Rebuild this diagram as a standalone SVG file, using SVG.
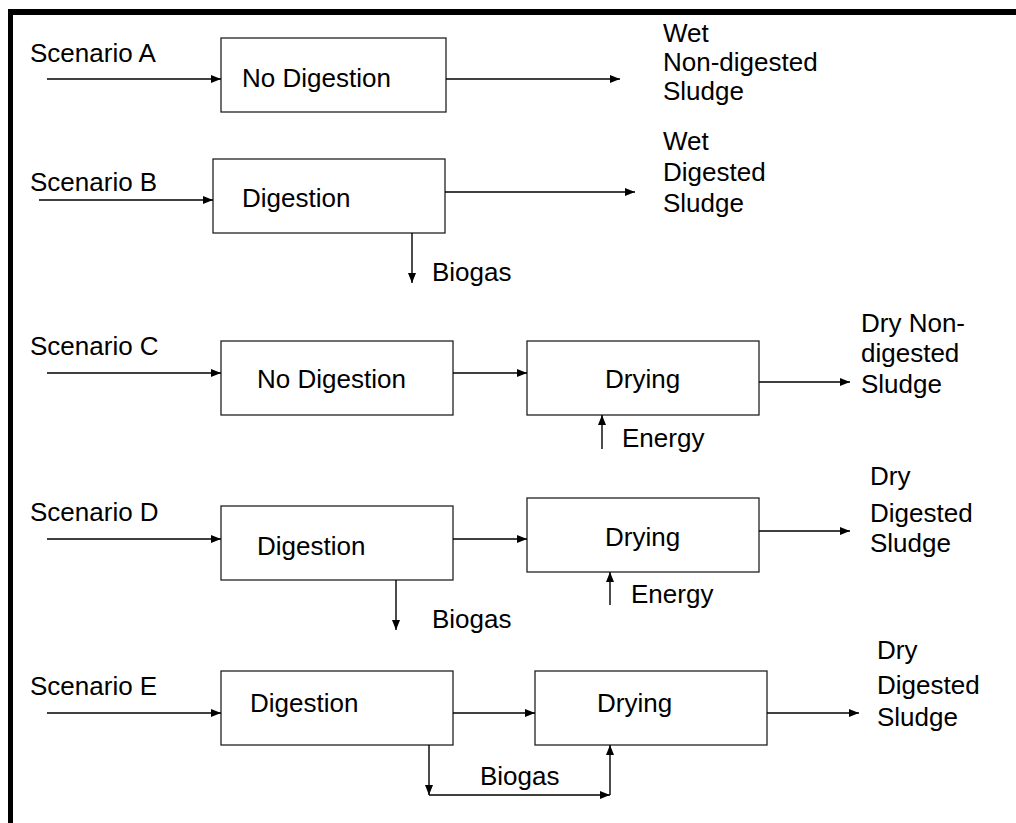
<svg xmlns="http://www.w3.org/2000/svg" width="1016" height="823" viewBox="0 0 1016 823">
<style>
.box{fill:#fff;stroke:#222;stroke-width:1.3}
.t{font-family:"Liberation Sans",Arial,sans-serif;font-size:26px;fill:#000}
.c{fill:none;stroke:#000;stroke-width:1.4}
</style>
<defs>
<marker id="ah" markerUnits="userSpaceOnUse" markerWidth="11" markerHeight="9" refX="10" refY="4" orient="auto">
<path d="M0,0 L10,4 L0,8 z" fill="#000"/>
</marker>
</defs>
<rect width="1016" height="823" fill="#fff"/>
<g id="frame">
<rect x="8" y="9" width="1008" height="6" fill="#000"/>
<rect x="8" y="9" width="5" height="814" fill="#000"/>
</g>
<g id="labels">
<text class="t" x="30" y="62">Scenario A</text>
<text class="t" x="30" y="191">Scenario B</text>
<text class="t" x="30" y="355">Scenario C</text>
<text class="t" x="30" y="521">Scenario D</text>
<text class="t" x="30" y="695">Scenario E</text>
</g>
<g id="nodeA1"><rect class="box" x="221" y="38" width="225" height="74"/><text class="t" x="242" y="87">No Digestion</text></g>
<g id="outA"><text class="t" x="663" y="42">Wet</text><text class="t" x="663" y="71">Non-digested</text><text class="t" x="663" y="100">Sludge</text></g>
<g id="nodeB1"><rect class="box" x="213" y="159" width="232" height="74"/><text class="t" x="242" y="207">Digestion</text></g>
<g id="outB"><text class="t" x="663" y="150">Wet</text><text class="t" x="663" y="181">Digested</text><text class="t" x="663" y="212">Sludge</text></g>
<g id="nodeC1"><rect class="box" x="221" y="341" width="232" height="74"/><text class="t" x="257" y="388">No Digestion</text></g>
<g id="nodeC2"><rect class="box" x="527" y="341" width="232" height="74"/><text class="t" x="605" y="388">Drying</text></g>
<g id="outC"><text class="t" x="861" y="332">Dry Non-</text><text class="t" x="861" y="362">digested</text><text class="t" x="861" y="393">Sludge</text></g>
<g id="nodeD1"><rect class="box" x="221" y="506" width="232" height="74"/><text class="t" x="257" y="555">Digestion</text></g>
<g id="nodeD2"><rect class="box" x="527" y="498" width="232" height="74"/><text class="t" x="605" y="546">Drying</text></g>
<g id="outD"><text class="t" x="870" y="485">Dry</text><text class="t" x="870" y="522">Digested</text><text class="t" x="870" y="552">Sludge</text></g>
<g id="nodeE1"><rect class="box" x="221" y="671" width="232" height="74"/><text class="t" x="250" y="712">Digestion</text></g>
<g id="nodeE2"><rect class="box" x="535" y="671" width="232" height="74"/><text class="t" x="597" y="712">Drying</text></g>
<g id="outE"><text class="t" x="877" y="659">Dry</text><text class="t" x="877" y="694">Digested</text><text class="t" x="877" y="726">Sludge</text></g>
<g id="connectors">
<line class="c" x1="47" y1="79" x2="221" y2="79" marker-end="url(#ah)"/>
<line class="c" x1="446" y1="79" x2="620" y2="79" marker-end="url(#ah)"/>
<line class="c" x1="39" y1="200" x2="213" y2="200" marker-end="url(#ah)"/>
<line class="c" x1="445" y1="192" x2="635" y2="192" marker-end="url(#ah)"/>
<line class="c" x1="412" y1="233" x2="412" y2="283" marker-end="url(#ah)"/>
<line class="c" x1="47" y1="373" x2="221" y2="373" marker-end="url(#ah)"/>
<line class="c" x1="453" y1="373" x2="527" y2="373" marker-end="url(#ah)"/>
<line class="c" x1="759" y1="382" x2="850" y2="382" marker-end="url(#ah)"/>
<line class="c" x1="602" y1="449" x2="602" y2="415" marker-end="url(#ah)"/>
<line class="c" x1="47" y1="539" x2="221" y2="539" marker-end="url(#ah)"/>
<line class="c" x1="453" y1="539" x2="527" y2="539" marker-end="url(#ah)"/>
<line class="c" x1="759" y1="531" x2="850" y2="531" marker-end="url(#ah)"/>
<line class="c" x1="610" y1="605" x2="610" y2="572" marker-end="url(#ah)"/>
<line class="c" x1="396" y1="580" x2="396" y2="630" marker-end="url(#ah)"/>
<line class="c" x1="47" y1="713" x2="221" y2="713" marker-end="url(#ah)"/>
<line class="c" x1="453" y1="713" x2="535" y2="713" marker-end="url(#ah)"/>
<line class="c" x1="767" y1="713" x2="859" y2="713" marker-end="url(#ah)"/>
<line class="c" x1="429" y1="745" x2="429" y2="795" marker-end="url(#ah)"/>
<line class="c" x1="429" y1="795" x2="610" y2="795" marker-end="url(#ah)"/>
<line class="c" x1="610" y1="795" x2="610" y2="745" marker-end="url(#ah)"/>
</g>
<g id="flowlabels">
<text class="t" x="432" y="281">Biogas</text>
<text class="t" x="622" y="447">Energy</text>
<text class="t" x="631" y="603">Energy</text>
<text class="t" x="432" y="628">Biogas</text>
<text class="t" x="480" y="785">Biogas</text>
</g>
</svg>
